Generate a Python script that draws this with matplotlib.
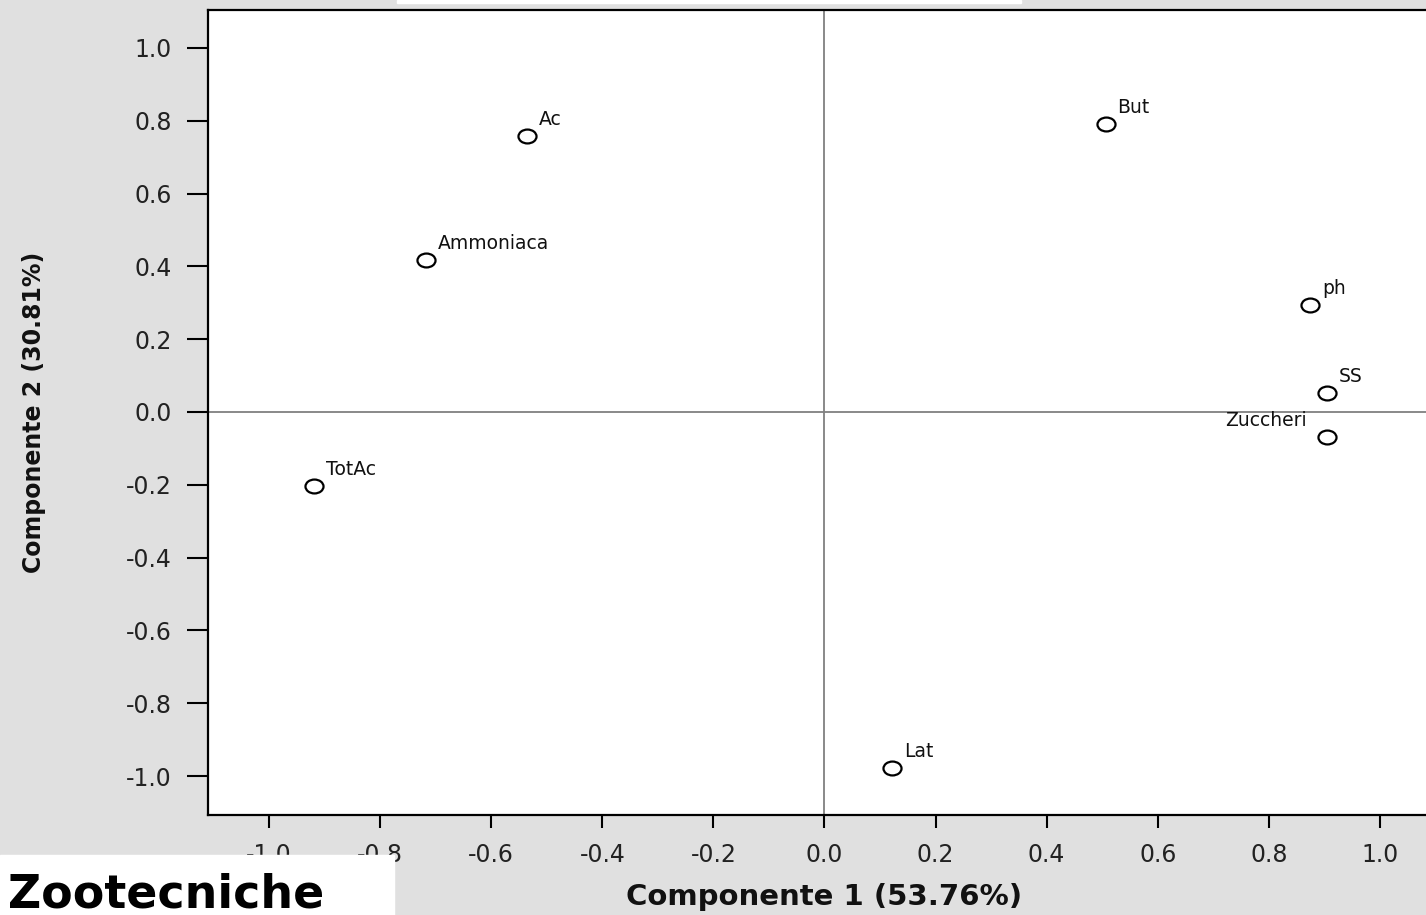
import numpy as np
import matplotlib
matplotlib.use('Agg')
import matplotlib.pyplot as plt
from matplotlib.path import Path
from matplotlib.patches import Rectangle
from matplotlib.transforms import Affine2D

plt.rcParams['axes.unicode_minus'] = False
plt.rcParams['font.family'] = ['DejaVu Sans']

# loadings of the variables on the first two components
names = ['Ac', 'Ammoniaca', 'TotAc', 'But', 'ph', 'SS', 'Zuccheri', 'Lat']
comp1 = [-0.535, -0.718, -0.920, 0.506, 0.875, 0.904, 0.904, 0.121]
comp2 = [0.758, 0.418, -0.203, 0.791, 0.294, 0.052, -0.069, -0.978]
left_labels = ['Zuccheri']

ticks = [-1.0, -0.8, -0.6, -0.4, -0.2, 0.0, 0.2, 0.4, 0.6, 0.8, 1.0]
xlabel = 'Componente 1 (53.76%)'
ylabel = 'Componente 2 (30.81%)'

W, H = 1426, 915
bg = '#e0e0e0'

fig = plt.figure(figsize=(W / 100, H / 100), dpi=100, facecolor=bg)
ax = fig.add_axes([208 / W, 100 / H, 1233 / W, 805 / H])
ax.set_facecolor('white')
ax.set_xlim(-1.11, 1.11)
ax.set_ylim(-1.107, 1.104)

# reference lines through the origin
ax.axhline(0, color='#808080', lw=1.3, zorder=1)
ax.axvline(0, color='#808080', lw=1.3, zorder=1)

# slightly wide open circle, like the stretched original
ell = Path.unit_circle().transformed(Affine2D().scale(1.3, 1.0))
ax.plot(comp1, comp2, linestyle='none', marker=ell, ms=13, mfc='white',
        mec='black', mew=1.6, zorder=3)

for n, x, y in zip(names, comp1, comp2):
    if n in left_labels:
        ax.annotate(n, (x, y), xytext=(-20, 11), textcoords='offset pixels',
                    ha='right', va='baseline', fontsize=13.5, color='#111111')
    else:
        ax.annotate(n, (x, y), xytext=(12, 11), textcoords='offset pixels',
                    ha='left', va='baseline', fontsize=13.5, color='#111111')

ax.set_xticks(ticks)
ax.set_yticks(ticks)
ax.set_xticklabels(['%.1f' % t for t in ticks])
ax.set_yticklabels(['%.1f' % t for t in ticks])
ax.tick_params(axis='y', direction='out', length=15, width=1.5, pad=11,
               labelsize=17, colors='black', labelcolor='#222222')
ax.tick_params(axis='x', direction='out', length=9, width=1.5, pad=11,
               labelsize=17, colors='black', labelcolor='#222222')

for s in ax.spines.values():
    s.set_linewidth(1.6)
    s.set_color('black')

ax.set_xlabel(xlabel, fontsize=21, weight='bold', color='#111111')
ax.xaxis.set_label_coords(0.5, -0.084)
ax.xaxis.label.set_va('top')

ax.set_ylabel(ylabel, fontsize=17, weight='bold', color='#111111',
              family=['Liberation Sans Narrow', 'DejaVu Sans Condensed', 'DejaVu Sans'])
ax.yaxis.set_label_coords(-0.131, 0.5)

# white strip at the top and the slide text box at the bottom left
fig.add_artist(Rectangle((397 / W, 912 / H), 624 / W, 3 / H,
                         transform=fig.transFigure, color='white', zorder=5))
fig.add_artist(Rectangle((0, 0), 394 / W, 60 / H,
                         transform=fig.transFigure, color='white', zorder=5))
fig.text(8 / W, 8 / H, 'Zootecniche', fontsize=33, weight='bold',
         va='baseline', ha='left', color='black', zorder=6)

fig.savefig('out.png', dpi=100, facecolor=bg)
